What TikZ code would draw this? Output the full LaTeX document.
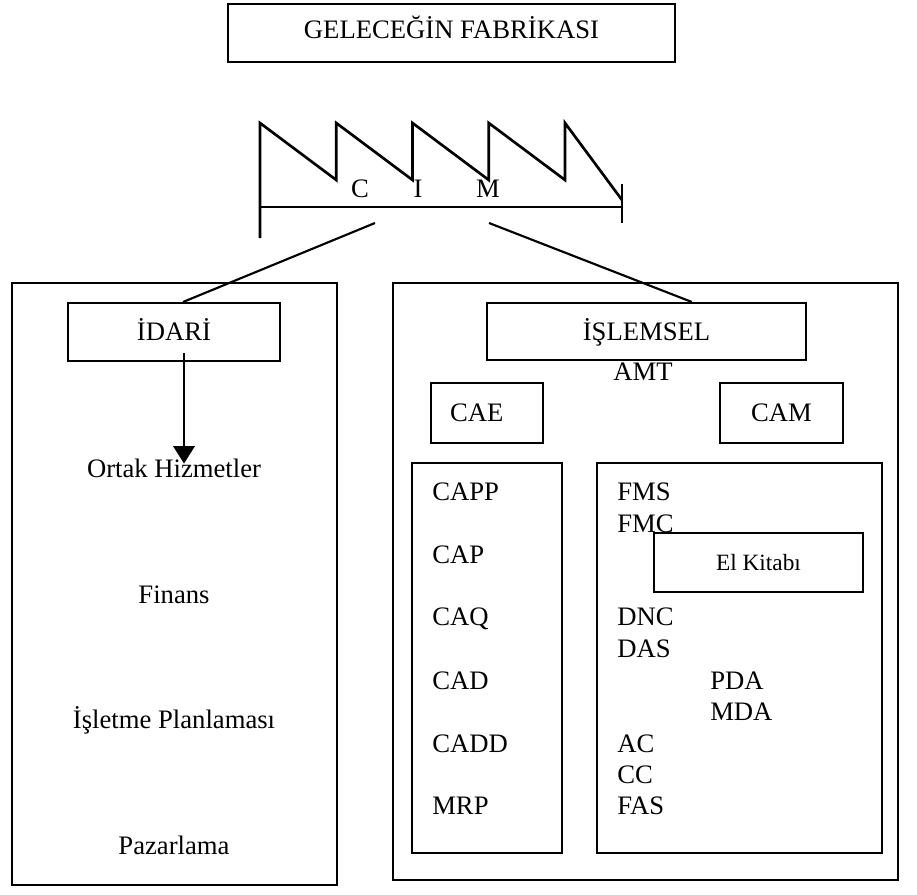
\documentclass[tikz,border=0pt]{standalone}
\usepackage{fontspec}
\setmainfont{Liberation Serif}
\usetikzlibrary{arrows.meta}

\tikzset{
  kutu/.style={draw, line width=1.5pt, fill=white, inner sep=0pt,
    text height=13pt, text depth=0pt, font=\fontsize{20}{24}\selectfont},
  yazi/.style={inner sep=0pt, font=\fontsize{20}{24}\selectfont},
  testere/.style={line width=2pt, line join=miter},
  bag/.style={line width=1.6pt},
}

\begin{document}
\begin{tikzpicture}[x=0.75pt, y=-0.75pt]

  \useasboundingbox (0, 0) rectangle (917, 895);

  % baslik
  \node[kutu, minimum width=335.25pt, minimum height=43.5pt, text depth=4.5pt] (gelecek) at (451.5, 33) {GELECEĞİN FABRİKASI};

  % CIM testere
  \draw[testere] (260, 238)
    \foreach \i in {0, ..., 3} { -- (260 + 76.25*\i, 123) -- (336.25 + 76.25*\i, 180) }
    -- (565, 123) -- (622, 200);
  \draw[testere] (260, 207) -- (622, 207);
  \draw[testere] (622, 184) -- (622, 223);

  \node[yazi, anchor=base] (c) at (360, 198) {C};
  \node[yazi, anchor=base] (i) at (418, 198) {I};
  \node[yazi, anchor=base] (m) at (488, 198) {M};

  \coordinate (cimsol) at (375, 223);
  \coordinate (cimsag) at (489, 223);

  % bolumler
  \node[kutu, minimum width=243.75pt, minimum height=451.5pt] (idaribolum) at (174.5, 584) {};
  \node[kutu, minimum width=378.75pt, minimum height=447.75pt] (islembolum) at (645.5, 581.5) {};

  % idari taraf
  \node[kutu, minimum width=159pt, minimum height=43.5pt] (idari) at (174, 332) {İDARİ};

  \node[yazi, anchor=base] (ortak) at (174, 477) {Ortak Hizmetler};
  \node[yazi, anchor=base] (finans) at (174, 603) {Finans};
  \node[yazi, anchor=base] (planlama) at (174, 728) {İşletme Planlaması};
  \node[yazi, anchor=base] (pazarlama) at (174, 854) {Pazarlama};

  \draw[line width=1.5pt, -{Triangle[width=16pt, length=13pt]}]
    ([xshift=7.5pt, yshift=6.75pt]idari.south) -- ([xshift=7.5pt, yshift=-4pt]ortak.north);

  % islemsel taraf
  \node[kutu, minimum width=239.25pt, minimum height=42.75pt] (islemsel) at (646.5, 331.5) {İŞLEMSEL};
  \node[yazi, anchor=base] (amt) at (643, 380) {AMT};

  \node[kutu, minimum width=84pt, minimum height=45pt, text width=55.5pt,
    inner xsep=14.25pt, align=left] (cae) at (487, 413) {CAE};
  \node[kutu, minimum width=92.25pt, minimum height=45pt] (cam) at (781.5, 413) {CAM};

  \node[kutu, minimum width=112.5pt, minimum height=292.5pt] (caeliste) at (487, 658) {};
  \node[kutu, minimum width=213.75pt, minimum height=292.5pt] (camliste) at (739.5, 658) {};

  \foreach \ad/\y in {CAPP/500, CAP/563, CAQ/625, CAD/689, CADD/752, MRP/814} {
    \node[yazi, anchor=base west] (\ad) at (432, \y) {\ad};
  }

  \foreach \ad/\y in {FMS/500, FMC/532, DNC/625, DAS/657, AC/752, CC/783, FAS/814} {
    \node[yazi, anchor=base west] (\ad) at (617, \y) {\ad};
  }
  \node[yazi, anchor=base west] (PDA) at (710, 689) {PDA};
  \node[yazi, anchor=base west] (MDA) at (710, 720) {MDA};

  \node[kutu, minimum width=156.75pt, minimum height=44.25pt, text height=11.5pt,
    font=\fontsize{17.5}{21}\selectfont] (elkitabi) at (758.5, 562.5) {El Kitabı};

  % baglantilar
  \draw[bag] (cimsol) -- ([xshift=6.75pt]idari.north);
  \draw[bag] (cimsag) -- ([xshift=34pt]islemsel.north);

\end{tikzpicture}
\end{document}
